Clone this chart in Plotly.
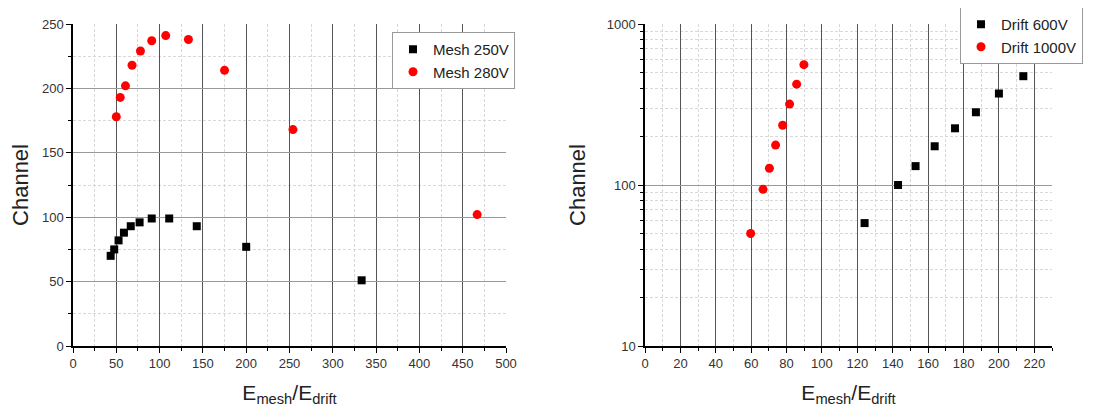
import plotly.graph_objects as go

# Left panel data
mesh250_x = [43.5, 47.6, 52.6, 58.8, 66.7, 76.9, 90.9, 111.1, 142.9, 200.0, 333.3]
mesh250_y = [70, 75, 82, 88, 93, 96, 99, 99, 93, 77, 51]
mesh280_x = [50.0, 54.5, 60.6, 68.2, 77.9, 90.9, 107.1, 133.3, 175.0, 254.0, 466.7]
mesh280_y = [178, 193, 202, 218, 229, 237, 241, 238, 214, 168, 102]

# Right panel data
drift600_x = [124.1, 143.0, 152.9, 163.7, 175.2, 187.0, 200.0, 213.8]
drift600_y = [58, 100, 131, 174, 225, 283, 370, 474]
drift1000_x = [59.7, 66.7, 70.3, 73.8, 77.8, 81.7, 85.7, 89.8]
drift1000_y = [50, 94, 127, 177, 235, 318, 423, 559]

FONT = "Liberation Sans, Arial, sans-serif"
W, H, OFF = 1115, 410, 8  # page body margin offset

fig = go.Figure()
sq = dict(symbol="square", size=8, color="black")
ci = dict(symbol="circle", size=9, color="#ff0000")
fig.add_trace(go.Scatter(x=mesh250_x, y=mesh250_y, mode="markers", marker=sq,
                         name="Mesh 250V", xaxis="x", yaxis="y", legend="legend"))
fig.add_trace(go.Scatter(x=mesh280_x, y=mesh280_y, mode="markers", marker=ci,
                         name="Mesh 280V", xaxis="x", yaxis="y", legend="legend"))
fig.add_trace(go.Scatter(x=drift600_x, y=drift600_y, mode="markers", marker=sq,
                         name="Drift 600V", xaxis="x2", yaxis="y2", legend="legend2"))
fig.add_trace(go.Scatter(x=drift1000_x, y=drift1000_y, mode="markers", marker=ci,
                         name="Drift 1000V", xaxis="x2", yaxis="y2", legend="legend2"))


def px_x(p):
    return (p - OFF) / W


def px_y(p):
    return 1 - (p - OFF) / H


ydom = [px_y(346), px_y(24)]
common = dict(showline=True, linecolor="black", linewidth=1.5, mirror=False,
              ticks="outside", ticklen=5, tickwidth=1, tickcolor="black",
              tickfont=dict(family=FONT, size=13, color="#333"),
              zeroline=False, showgrid=True, automargin=False)
minor_common = dict(ticks="outside", ticklen=3, tickcolor="black", showgrid=True,
                    gridcolor="#d8d8d8", griddash="3px,2px", gridwidth=1)
xtitle = dict(text="E<sub>mesh</sub>/E<sub>drift</sub>", font=dict(family=FONT, size=21, color="#222"))
ytitle = dict(text="Channel", font=dict(family=FONT, size=22, color="#222"))
legfont = dict(family=FONT, size=15, color="#222")

fig.update_layout(
    width=W, height=H,
    margin=dict(l=0, r=0, t=0, b=0, autoexpand=False),
    paper_bgcolor="white", plot_bgcolor="white",
    showlegend=True,
    xaxis=dict(domain=[px_x(73), px_x(506)], range=[0, 500], dtick=50, anchor="y",
               gridcolor="#555", gridwidth=1, title=xtitle,
               minor=dict(dtick=25, **minor_common), **common),
    yaxis=dict(domain=ydom, range=[0, 250], dtick=50, anchor="x",
               gridcolor="#999", gridwidth=1, title=ytitle,
               minor=dict(dtick=25, **minor_common), **common),
    xaxis2=dict(domain=[px_x(645), px_x(1052)], range=[0, 230], dtick=20, anchor="y2",
                gridcolor="#555", gridwidth=1, title=xtitle,
                minor=dict(dtick=10, **minor_common), **common),
    yaxis2=dict(domain=ydom, type="log", range=[1, 3], dtick=1, anchor="x2",
                gridcolor="#999", gridwidth=1, title=ytitle,
                minor=dict(dtick="D1", **minor_common), **common),
    legend=dict(x=px_x(392), y=px_y(32), xanchor="left", yanchor="top",
                bordercolor="#999", borderwidth=1, bgcolor="white",
                font=legfont, itemsizing="trace", tracegroupgap=0),
    legend2=dict(x=px_x(960), y=px_y(7), xanchor="left", yanchor="top",
                 bordercolor="#999", borderwidth=1, bgcolor="white",
                 font=legfont, itemsizing="trace", tracegroupgap=0),
)

fig.write_html("out.html")
